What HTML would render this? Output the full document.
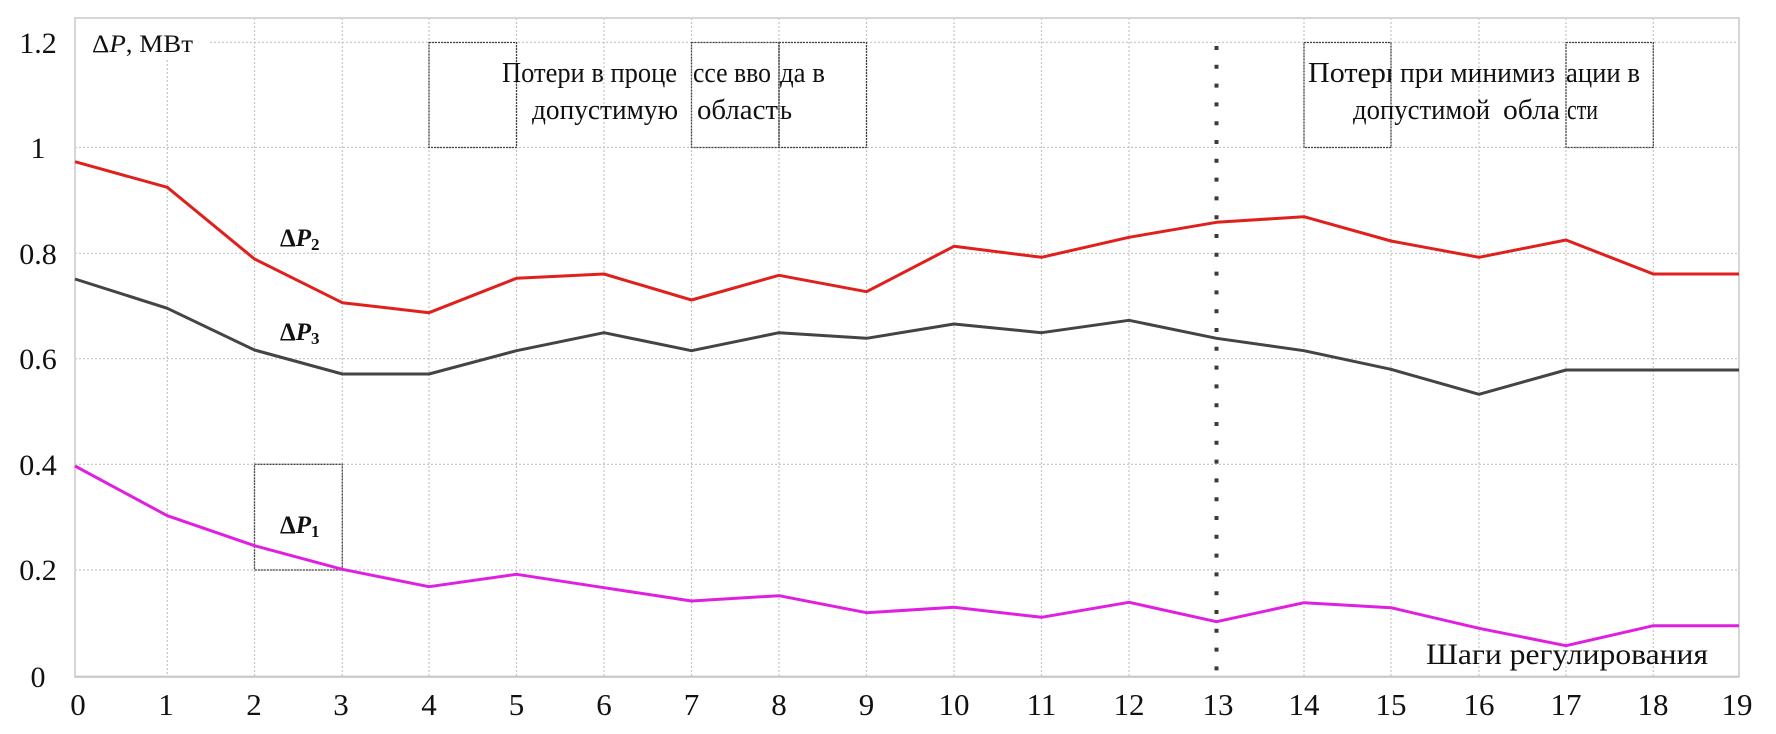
<!DOCTYPE html>
<html><head><meta charset="utf-8"><style>
html,body{margin:0;padding:0;background:#fff;}
svg{display:block;}
text{font-family:"Liberation Serif",serif;fill:#111;}
</style></head><body>
<svg width="1776" height="734" viewBox="0 0 1776 734" xmlns="http://www.w3.org/2000/svg">
<defs>
<clipPath id="c1"><rect x="1300" y="40" width="91" height="60"/></clipPath>
</defs>
<rect x="0" y="0" width="1776" height="734" fill="#fff"/>
<!-- gridlines -->
<g stroke="#c4c4c4" stroke-width="1.2" stroke-dasharray="2 2" fill="none">
<line x1="75" y1="570" x2="1739" y2="570"/>
<line x1="75" y1="464.3" x2="1739" y2="464.3"/>
<line x1="75" y1="358.7" x2="1739" y2="358.7"/>
<line x1="75" y1="253.3" x2="1739" y2="253.3"/>
<line x1="75" y1="147.5" x2="1739" y2="147.5"/>
<line x1="210" y1="42.3" x2="1739" y2="42.3"/>
<line x1="167.3" y1="60" x2="167.3" y2="676"/>
<line x1="254.5" y1="18" x2="254.5" y2="676"/>
<line x1="342.3" y1="18" x2="342.3" y2="676"/>
<line x1="429" y1="18" x2="429" y2="676"/>
<line x1="516.5" y1="18" x2="516.5" y2="676"/>
<line x1="604" y1="18" x2="604" y2="676"/>
<line x1="691.5" y1="18" x2="691.5" y2="676"/>
<line x1="779" y1="18" x2="779" y2="676"/>
<line x1="866.5" y1="18" x2="866.5" y2="676"/>
<line x1="954" y1="18" x2="954" y2="676"/>
<line x1="1041.5" y1="18" x2="1041.5" y2="676"/>
<line x1="1129" y1="18" x2="1129" y2="676"/>
<line x1="1304" y1="18" x2="1304" y2="676"/>
<line x1="1391" y1="18" x2="1391" y2="676"/>
<line x1="1479" y1="18" x2="1479" y2="676"/>
<line x1="1566" y1="18" x2="1566" y2="676"/>
<line x1="1653.3" y1="18" x2="1653.3" y2="676"/>
</g>
<!-- frame -->
<rect x="75" y="18" width="1664" height="658.7" fill="none" stroke="#d6d6d6" stroke-width="2"/>
<line x1="75" y1="676.7" x2="1739" y2="676.7" stroke="#c8c8c8" stroke-width="2"/>
<!-- annotation boxes -->
<g stroke="#444" stroke-width="1.3" stroke-dasharray="2 1" fill="none">
<rect x="429" y="42.5" width="87.5" height="105"/>
<rect x="691.5" y="42.5" width="87.5" height="105"/>
<rect x="779" y="42.5" width="87.5" height="105"/>
<rect x="1304" y="42.5" width="87" height="105"/>
<rect x="1566" y="42.5" width="87.3" height="105"/>
<rect x="254.5" y="464.3" width="87.8" height="105.7"/>
</g>
<!-- vertical dotted line at 13 -->
<line x1="1216.5" y1="46" x2="1216.5" y2="677" stroke="#3a3a3a" stroke-width="4" stroke-dasharray="4 14.8"/>
<!-- series -->
<g fill="none" stroke-width="3" stroke-linejoin="round">
<polyline stroke="#e0201c" points="75,161.7 167.3,187.3 254.5,259 342.3,302.7 429,312.7 516.5,278.3 604,274 691.5,300 779,275.3 866.5,291.7 954,246.3 1041.5,257.3 1129,237.3 1216.5,222.3 1304,216.7 1391,241 1479,257.3 1566,240 1653.3,274 1739,274"/>
<polyline stroke="#444444" points="75,279 167.3,308.3 254.5,350 342.3,374 429,374 516.5,350.7 604,332.7 691.5,350.7 779,332.7 866.5,338.3 954,324 1041.5,332.7 1129,320.3 1216.5,338.3 1304,350.7 1391,369.3 1479,394.3 1566,370 1653.3,370 1739,370"/>
<polyline stroke="#e020e0" points="75,466 167.3,515.7 254.5,545.7 342.3,569.3 429,586.7 516.5,574.3 604,587.7 691.5,601 779,595.7 866.5,612.7 954,607.3 1041.5,617.3 1129,602.3 1216.5,621.7 1304,602.7 1391,607.7 1479,628.3 1566,645.7 1653.3,625.7 1739,625.7"/>
</g>
<!-- y tick labels -->
<g font-size="30" text-anchor="middle">
<text x="38" y="53">1.2</text>
<text x="38" y="158">1</text>
<text x="38" y="264">0.8</text>
<text x="38" y="369">0.6</text>
<text x="38" y="475">0.4</text>
<text x="38" y="580">0.2</text>
<text x="38" y="687">0</text>
</g>
<!-- x tick labels -->
<g font-size="31" text-anchor="middle">
<text x="78" y="715">0</text>
<text x="166" y="715">1</text>
<text x="254" y="715">2</text>
<text x="341" y="715">3</text>
<text x="429" y="715">4</text>
<text x="516.5" y="715">5</text>
<text x="604" y="715">6</text>
<text x="691.5" y="715">7</text>
<text x="779" y="715">8</text>
<text x="866.5" y="715">9</text>
<text x="954" y="715">10</text>
<text x="1041.5" y="715">11</text>
<text x="1129" y="715">12</text>
<text x="1218" y="715">13</text>
<text x="1304" y="715">14</text>
<text x="1391" y="715">15</text>
<text x="1479" y="715">16</text>
<text x="1566" y="715">17</text>
<text x="1653" y="715">18</text>
<text x="1737" y="715">19</text>
</g>
<!-- axis title label -->
<rect x="77" y="20" width="131" height="40" fill="#fff"/>
<text x="92" y="52" font-size="25" textLength="101" lengthAdjust="spacingAndGlyphs">Δ<tspan font-style="italic">P</tspan>, МВт</text>
<text x="1426" y="664" font-size="30" textLength="282" lengthAdjust="spacingAndGlyphs">Шаги регулирования</text>
<!-- series labels -->
<g font-size="25" font-weight="bold">
<text x="280" y="246">Δ<tspan font-style="italic">P</tspan><tspan font-size="17" dy="4">2</tspan></text>
<text x="280" y="340">Δ<tspan font-style="italic">P</tspan><tspan font-size="17" dy="4">3</tspan></text>
<text x="280" y="533">Δ<tspan font-style="italic">P</tspan><tspan font-size="17" dy="4">1</tspan></text>
</g>
<!-- annotations -->
<g font-size="28">
<text x="502" y="82" textLength="175" lengthAdjust="spacingAndGlyphs">Потери в проце</text>
<text x="693" y="82" textLength="78" lengthAdjust="spacingAndGlyphs">ссе вво</text>
<text x="780" y="82" textLength="45" lengthAdjust="spacingAndGlyphs">да в</text>
<text x="532" y="119" textLength="146" lengthAdjust="spacingAndGlyphs">допустимую</text>
<text x="697" y="119" textLength="81" lengthAdjust="spacingAndGlyphs">област</text>
<text x="780" y="119" textLength="12" lengthAdjust="spacingAndGlyphs">ь</text>
<g clip-path="url(#c1)"><text x="1308" y="82" textLength="94" lengthAdjust="spacingAndGlyphs">Потери</text></g>
<text x="1400" y="82" textLength="155" lengthAdjust="spacingAndGlyphs">при минимиз</text>
<text x="1566" y="82" textLength="74" lengthAdjust="spacingAndGlyphs">ации в</text>
<text x="1353" y="119" textLength="137" lengthAdjust="spacingAndGlyphs">допустимой</text>
<text x="1503" y="119" textLength="57" lengthAdjust="spacingAndGlyphs">обла</text>
<text x="1567" y="119" textLength="31" lengthAdjust="spacingAndGlyphs">сти</text>
</g>
</svg>
</body></html>
